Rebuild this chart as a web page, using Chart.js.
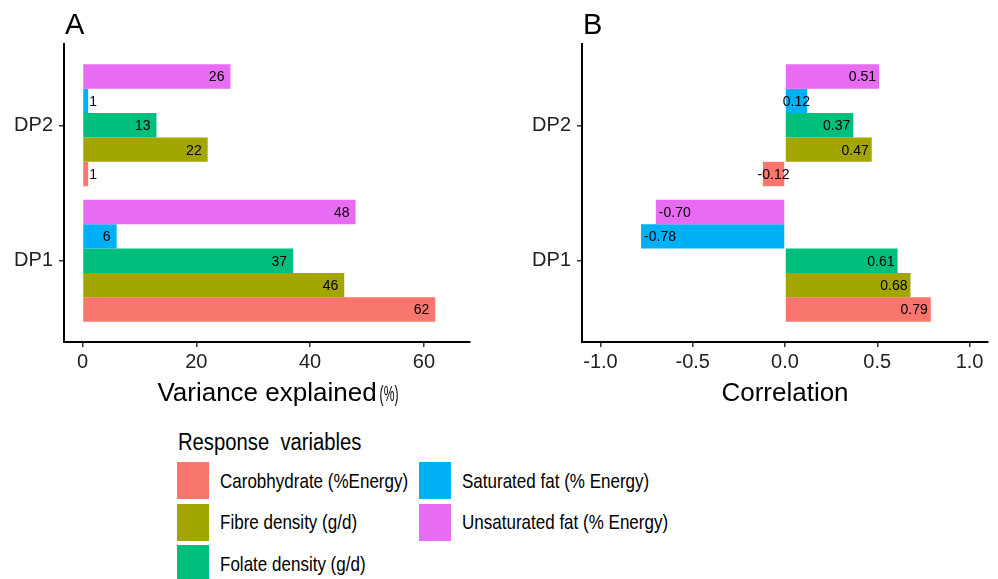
<!DOCTYPE html>
<html>
<head>
<meta charset="utf-8">
<script src="https://cdn.jsdelivr.net/npm/chart.js@4.4.1/dist/chart.umd.min.js"></script>
<style>
    body { margin: 0; width: 998px; height: 579px; overflow: hidden; background: #fff; position: relative;
           font-family: "Liberation Sans", Arial, sans-serif; color: #000; }
    .panel { position: absolute; top: 0; height: 420px; }
    #boxA { left: 0; width: 490px; }
    #boxB { left: 500px; width: 498px; }
    .tag { position: absolute; top: 10px; font-size: 29px; line-height: 29px; }
    #legendTitle { position: absolute; left: 178px; top: 431px; font-size: 23px; line-height: 23px;
                   white-space: pre; transform: scaleX(0.88); transform-origin: left; }
    .key { position: absolute; width: 32px; height: 37px; }
    .keyLabel { position: absolute; height: 37px; display: flex; align-items: center; white-space: nowrap;
                font-size: 21px; transform: scaleX(0.81); transform-origin: left; }
</style>
</head>
<body>
<div class="panel" id="boxA"><canvas id="chartA"></canvas></div>
<div class="panel" id="boxB"><canvas id="chartB"></canvas></div>
<div class="tag" style="left:65px">A</div>
<div class="tag" style="left:583px">B</div>
<div id="legendTitle">Response  variables</div>
<div id="legend"></div>

<script>
// categories on the y axis (bottom to top)
const categories = ['DP1', 'DP2'];

// response variables, in legend order
const responseVars = ['Carobhydrate (%Energy)', 'Fibre density (g/d)', 'Folate density (g/d)',
    'Saturated fat (% Energy)', 'Unsaturated fat (% Energy)'];
const varColors = ['#F8766D', '#A3A500', '#00BF7D', '#00B0F6', '#E76BF3'];

// panel A: variance explained (%), [DP1, DP2]
const varianceCarb = [62, 1];
const varianceFibre = [46, 22];
const varianceFolate = [37, 13];
const varianceSaturated = [6, 1];
const varianceUnsaturated = [48, 26];

// panel B: correlation, [DP1, DP2]
const corrCarb = [0.79, -0.12];
const corrFibre = [0.68, 0.47];
const corrFolate = [0.61, 0.37];
const corrSaturated = [-0.78, 0.12];
const corrUnsaturated = [-0.70, 0.51];

const varianceTicks = [0, 20, 40, 60];
const corrTicks = [-1, -0.5, 0, 0.5, 1];

const FONT = '"Liberation Sans", Arial, sans-serif';

// writes the value at the end of each bar
const valueLabels = {
    id: 'valueLabels',
    afterDatasetsDraw(chart, args, opts) {
        const ctx = chart.ctx;
        ctx.save();
        ctx.font = '14px ' + FONT;
        ctx.fillStyle = '#000';
        ctx.textBaseline = 'middle';
        chart.data.datasets.forEach((ds, i) => {
            chart.getDatasetMeta(i).data.forEach((bar, j) => {
                const v = ds.data[j].x;
                const text = opts.format(v);
                const w = ctx.measureText(text).width;
                const len = Math.abs(bar.x - bar.base);
                const dir = v < 0 ? -1 : 1;
                let x;
                if (len > w + 10) {
                    ctx.textAlign = dir > 0 ? 'right' : 'left';
                    x = bar.x - dir * opts.pad;
                } else if (len < 10) {
                    ctx.textAlign = 'left';
                    x = bar.x + 1;
                } else {
                    ctx.textAlign = 'center';
                    x = (bar.x + bar.base) / 2;
                }
                ctx.fillText(text, x, bar.y + 1);
            });
        });
        ctx.restore();
    }
};

// x axis title, with an optional small condensed suffix
const axisTitle = {
    id: 'axisTitle',
    afterDraw(chart, args, opts) {
        const ctx = chart.ctx;
        const area = chart.chartArea;
        const cx = (area.left + area.right) / 2;
        ctx.save();
        ctx.font = '26px ' + FONT;
        ctx.fillStyle = '#000';
        ctx.textBaseline = 'alphabetic';
        ctx.textAlign = 'center';
        ctx.fillText(opts.text, cx, opts.y);
        if (opts.suffix) {
            const w = ctx.measureText(opts.text).width;
            ctx.translate(cx + w / 2 + 3, opts.y);
            ctx.scale(0.55, 1);
            ctx.font = '22px ' + FONT;
            ctx.textAlign = 'left';
            ctx.fillText(opts.suffix, 0, 0);
        }
        ctx.restore();
    }
};

function buildDatasets(series) {
    // draw order is top to bottom inside each group: reverse of legend order
    return series.map((vals, k) => ({
        label: responseVars[k],
        data: vals.map((v, i) => ({ x: v, y: i + 1 })),
        backgroundColor: varColors[k],
        borderWidth: 0
    })).reverse();
}

function panelOptions(xMin, xMax, xTicks, tickFmt, yWidth, rightPad, title, suffix, labelFmt, pad) {
    return {
        indexAxis: 'y',
        responsive: true,
        maintainAspectRatio: false,
        animation: false,
        layout: { padding: { top: 44, right: rightPad, left: 0, bottom: 0 } },
        categoryPercentage: 0.9,
        barPercentage: 1.0,
        plugins: {
            legend: { display: false },
            tooltip: { enabled: false },
            valueLabels: { format: labelFmt, pad: pad },
            axisTitle: { text: title, suffix: suffix, y: 401 }
        },
        scales: {
            x: {
                type: 'linear', min: xMin, max: xMax, offset: false,
                afterBuildTicks: s => { s.ticks = xTicks.map(v => ({ value: v })); },
                afterFit: s => { s.height = 78; },
                ticks: { font: { size: 20, family: FONT }, color: '#222', padding: 3, maxRotation: 0,
                         autoSkip: false, callback: v => tickFmt(v) },
                grid: { drawOnChartArea: false, drawTicks: true, tickLength: 5, color: '#333', lineWidth: 1.5, offset: false },
                border: { display: true, color: '#000', width: 2 }
            },
            y: {
                type: 'linear', min: 0.4, max: 2.6, offset: false,
                afterBuildTicks: s => { s.ticks = categories.map((c, i) => ({ value: i + 1 })); },
                afterFit: s => { s.width = yWidth; },
                ticks: { font: { size: 20, family: FONT }, color: '#222', padding: 6, autoSkip: false,
                         callback: v => categories[Math.round(v) - 1] },
                grid: { drawOnChartArea: false, drawTicks: true, tickLength: 5, color: '#333', lineWidth: 1.5, offset: false },
                border: { display: true, color: '#000', width: 2 }
            }
        }
    };
}

new Chart(document.getElementById('chartA'), {
    type: 'bar',
    data: { datasets: buildDatasets([varianceCarb, varianceFibre, varianceFolate, varianceSaturated, varianceUnsaturated]) },
    options: panelOptions(-3.25, 68.1, varianceTicks, v => String(v), 64, 20,
        'Variance explained', '(%)', v => String(v), 6),
    plugins: [valueLabels, axisTitle]
});

new Chart(document.getElementById('chartB'), {
    type: 'bar',
    data: { datasets: buildDatasets([corrCarb, corrFibre, corrFolate, corrSaturated, corrUnsaturated]) },
    options: panelOptions(-1.1, 1.1, corrTicks, v => v.toFixed(1), 82, 10,
        'Correlation', '', v => v.toFixed(2), 3),
    plugins: [valueLabels, axisTitle]
});

// legend: 3 rows, filled column by column
const legend = document.getElementById('legend');
responseVars.forEach((name, k) => {
    const col = Math.floor(k / 3);
    const row = k % 3;
    const left = col === 0 ? 177 : 419;
    const top = 462 + row * 41.5;
    const key = document.createElement('div');
    key.className = 'key';
    key.style.left = left + 'px';
    key.style.top = top + 'px';
    key.style.background = varColors[k];
    legend.appendChild(key);
    const label = document.createElement('div');
    label.className = 'keyLabel';
    label.style.left = (left + 43) + 'px';
    label.style.top = top + 'px';
    label.textContent = name;
    legend.appendChild(label);
});
</script>
</body>
</html>
